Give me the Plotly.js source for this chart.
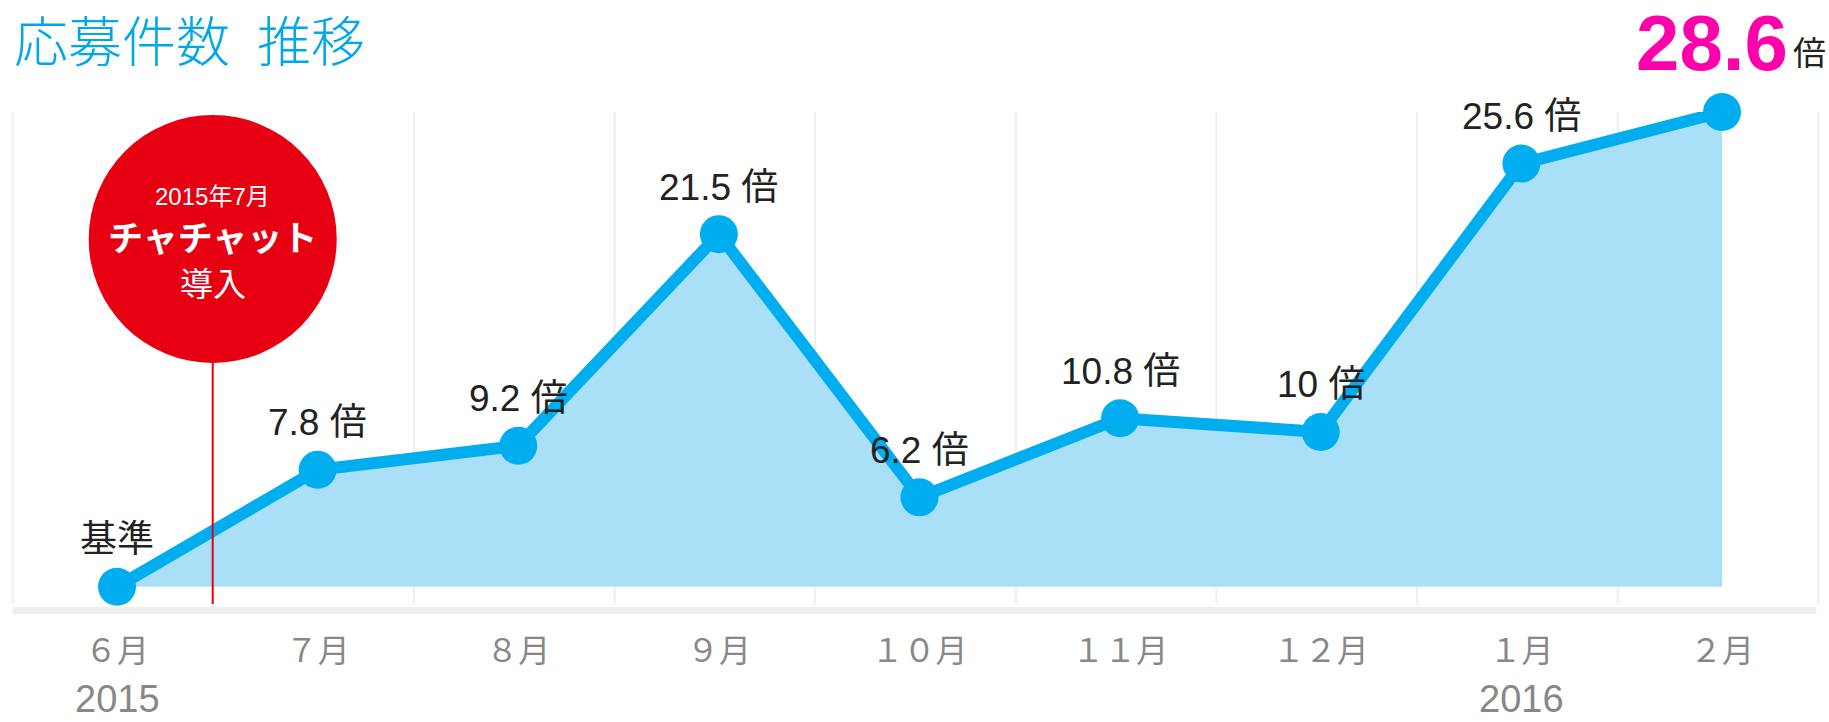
<!DOCTYPE html>
<html>
<head>
<meta charset="utf-8">
<script src="https://cdn.plot.ly/plotly-3.0.1.min.js"></script>
<style>
  html, body { margin: 0; padding: 0; background: #fff; }
  #chart { width: 1829px; height: 722px; }
</style>
</head>
<body>
<div id="chart"></div>
<script>
// ---- data ----
const months = ['６月', '７月', '８月', '９月', '１０月', '１１月', '１２月', '１月', '２月'];
const values = [1, 7.8, 9.2, 21.5, 6.2, 10.8, 10, 25.6, 28.6];
const baseLabel = '基準';
const unit = '倍';
const yearLabels = ['2015', '2016'];
const yearMonthIndex = [0, 7];
const introLines = ['2015年7月', 'チャチャット', '導入'];
const titleText = '応募件数\u2002推移';
const baseline = 1;

// ---- styling ----
const CJK = 'Noto Sans CJK JP';
const LATIN = 'Liberation Sans, Arial, Noto Sans CJK JP';
const lineBlue = '#00AEEF';
const fillBlue = '#A9DFF7';
const red = '#E60012';
const magenta = '#FF00AA';
const dark = '#222222';
const gray = '#888888';

const xRange = [-0.5832, 8.5333];
const yRange = [0, 28.6];
const introX = 0.477;     // position between first two months
const introY = 21.22;     // centre of the red badge (data units)

const traces = [
  {
    x: months,
    y: months.map(() => baseline),
    type: 'scatter',
    mode: 'lines',
    line: { width: 0, color: 'rgba(0,0,0,0)' },
    hoverinfo: 'skip',
    showlegend: false
  },
  {
    x: months,
    y: values,
    type: 'scatter',
    mode: 'lines+markers',
    fill: 'tonexty',
    fillcolor: fillBlue,
    line: { color: lineBlue, width: 12 },
    marker: { color: lineBlue, size: 38 },
    cliponaxis: false,
    showlegend: false
  }
];

const shapes = [];
for (let k = 0; k < 10; k++) {
  shapes.push({
    type: 'line', xref: 'x', yref: 'paper',
    x0: -0.52 + k, x1: -0.52 + k, y0: 0, y1: 1,
    line: { color: '#EEEEEE', width: 2 }, layer: 'below'
  });
}
shapes.push({
  type: 'rect', xref: 'x', yref: 'paper',
  x0: -0.52, x1: 8.47, y0: -0.0203, y1: -0.0061,
  fillcolor: '#EFEFEF', line: { width: 0 }, layer: 'below'
});
shapes.push({
  type: 'line', xref: 'x', yref: 'y',
  x0: introX, x1: introX, y0: 0, y1: introY,
  line: { color: red, width: 2 }, layer: 'above'
});
shapes.push({
  type: 'circle', xref: 'x', yref: 'y',
  xsizemode: 'pixel', ysizemode: 'pixel',
  xanchor: introX, yanchor: introY,
  x0: -124, x1: 124, y0: -124, y1: 124,
  fillcolor: red, line: { width: 0 }, layer: 'above'
});

const annotations = [];
// point labels (all but last, which is the headline)
for (let i = 0; i < values.length - 1; i++) {
  annotations.push({
    x: months[i], y: values[i], xref: 'x', yref: 'y',
    text: i === 0 ? baseLabel : values[i] + ' ' + unit,
    showarrow: false, yshift: 47,
    font: { family: LATIN, size: 37, color: dark }
  });
}
// years
yearLabels.forEach((t, j) => {
  annotations.push({
    x: months[yearMonthIndex[j]], y: (604 - 699) / 492, xref: 'x', yref: 'paper',
    text: t, showarrow: false, yanchor: 'middle',
    font: { family: LATIN, size: 38, color: gray }
  });
});
// headline value
annotations.push({
  x: 1790 / 1829, y: (604 - 43) / 492, xref: 'paper', yref: 'paper',
  xanchor: 'right', yanchor: 'middle',
  text: '<b>' + values[values.length - 1] + '</b>', showarrow: false,
  font: { family: LATIN, size: 78, color: magenta }
});
annotations.push({
  x: 1791 / 1829, y: (604 - 51) / 492, xref: 'paper', yref: 'paper',
  xanchor: 'left', yanchor: 'middle',
  text: unit, showarrow: false,
  font: { family: CJK, size: 33, color: dark }
});
// badge text
const introShift = [42, 0, -46];
const introSize = [24, 35, 33];
introLines.forEach((t, j) => {
  annotations.push({
    x: introX, y: introY, xref: 'x', yref: 'y',
    text: j === 1 ? '<b>' + t + '</b>' : t,
    showarrow: false, yshift: introShift[j], yanchor: 'middle',
    font: { family: LATIN, size: introSize[j], color: '#FFFFFF' }
  });
});

const layout = {
  width: 1829, height: 722,
  margin: { l: 0, r: 0, t: 112, b: 118, pad: 0 },
  paper_bgcolor: '#FFFFFF', plot_bgcolor: '#FFFFFF',
  showlegend: false, hovermode: false,
  title: {
    text: titleText,
    font: { family: CJK, size: 54, color: '#00A7EA', weight: 300 },
    xref: 'container', yref: 'container',
    x: 14 / 1829, xanchor: 'left', y: 1 - 43 / 722, yanchor: 'middle'
  },
  xaxis: {
    type: 'category', range: xRange,
    showgrid: false, zeroline: false, showline: false, ticks: '',
    tickfont: { family: CJK, size: 32, color: gray },
    ticklabelstandoff: 25, fixedrange: true
  },
  yaxis: {
    range: yRange, visible: false, showgrid: false, zeroline: false, fixedrange: true
  },
  shapes: shapes,
  annotations: annotations
};

Plotly.newPlot('chart', traces, layout, { displayModeBar: false, staticPlot: true });
</script>
</body>
</html>
